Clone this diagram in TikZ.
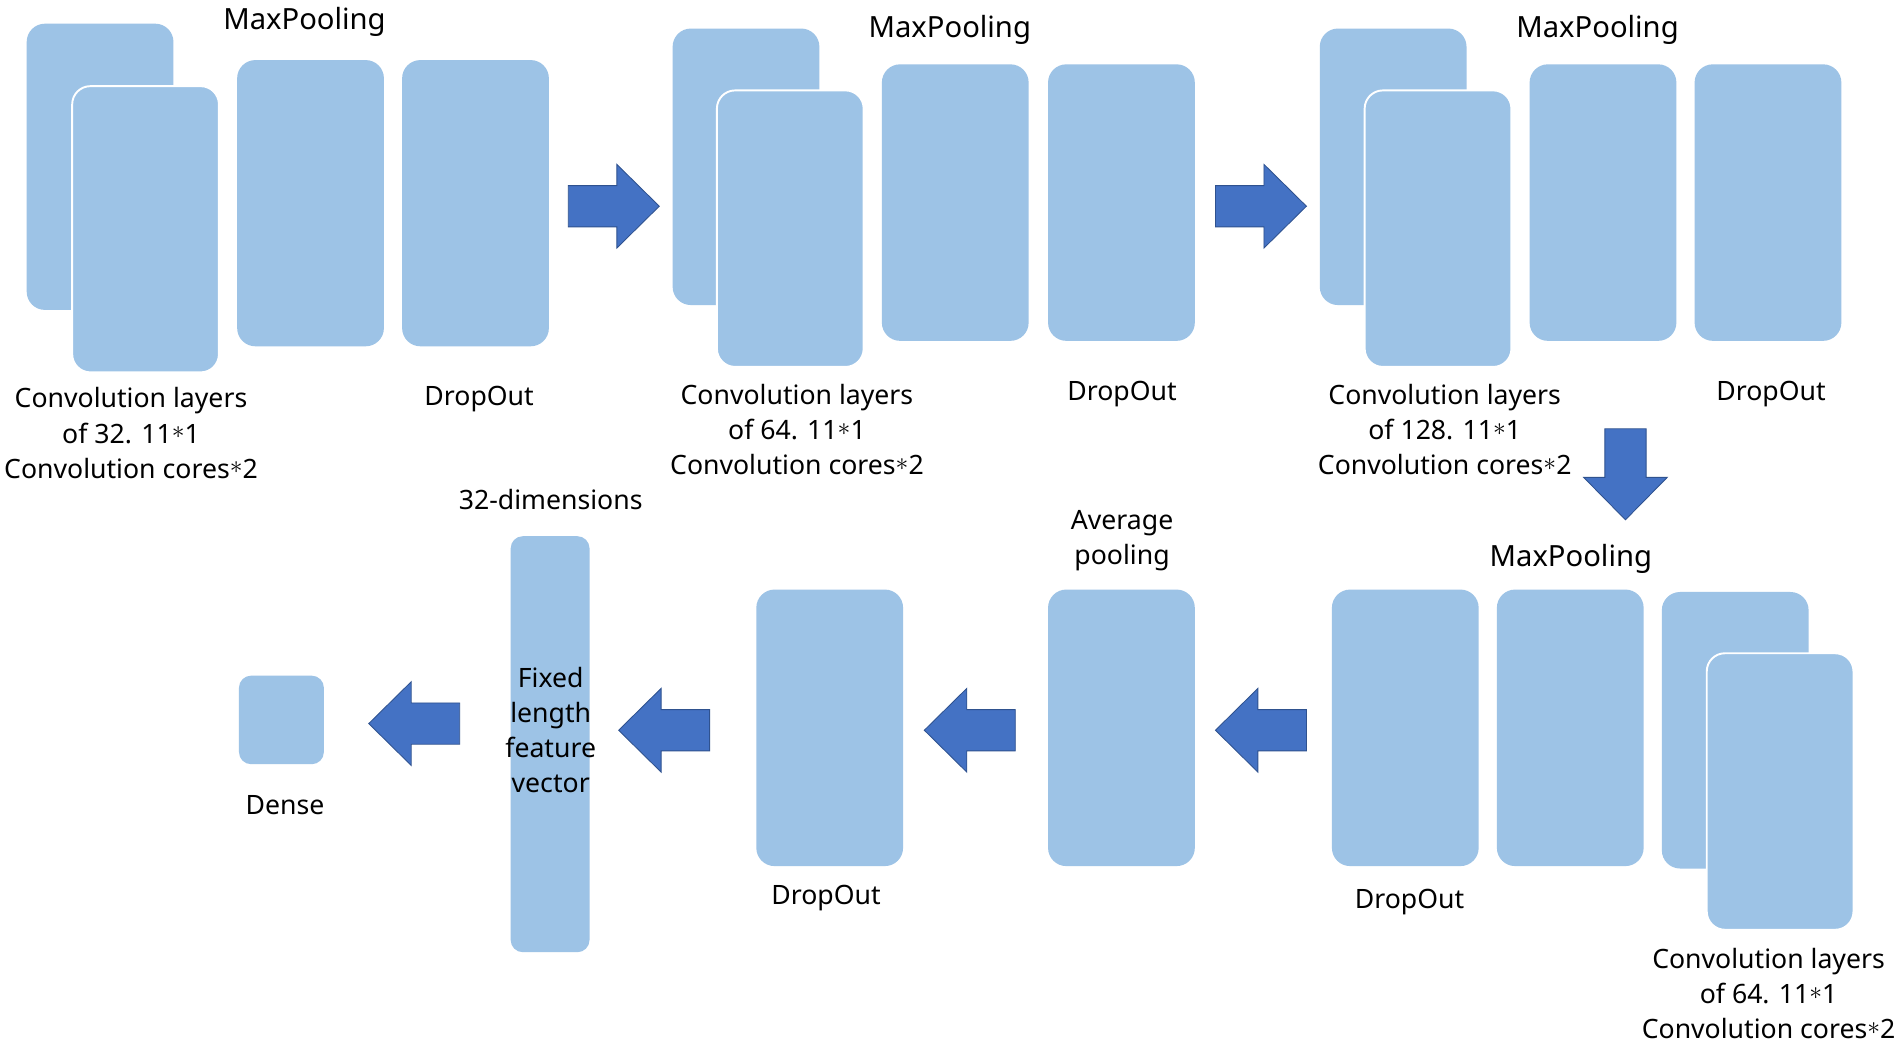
\documentclass[tikz,border=0pt]{standalone}
\usepackage{fontspec}
\setmainfont{Noto Sans}
\usetikzlibrary{positioning}
\definecolor{layerblue}{HTML}{9DC3E6}
\definecolor{arrowblue}{HTML}{4472C4}
\definecolor{arrowedge}{HTML}{2F528F}
\newcommand{\cstar}{\raisebox{0.3ex}{$\ast$}}

\begin{document}
\begin{tikzpicture}[x=0.02cm, y=0.02cm,
  layer/.style={rectangle, rounded corners=0.3cm, fill=layerblue, inner sep=0pt,
    minimum width=2.42cm, minimum height=4.56cm},
  tall/.style={minimum height=4.72cm},
  front/.style={draw=white, line width=0.9pt},
  lbl/.style={align=center, inner sep=0pt, font=\fontsize{12.5}{16.5}\selectfont},
  title/.style={inner sep=0pt, font=\fontsize{13.7}{16.5}\selectfont},
  blockarrow/.pic={
    \filldraw[fill=arrowblue, draw=arrowedge, line width=0.4pt]
      (-37.5,-17) -- (2.5,-17) -- (2.5,-34.5) -- (37.5,0)
      -- (2.5,34.5) -- (2.5,17) -- (-37.5,17) -- cycle;}]

  \path[use as bounding box, fill=white] (0,0) rectangle (1568,-860);

  % first block
  \node[layer, tall] (c1b) at (82.5,-137.5) {};
  \node[layer, tall, front] (c1f) at (120,-189) {};
  \node[layer, tall] (mp1) at (256,-167.5) {};
  \node[layer, tall] (do1) at (392,-167.5) {};
  \node[title] (t1) at (251,-18) {MaxPooling};
  \node[lbl] (l1) at (108,-357) {Convolution layers\\of 32. 11\cstar1\\Convolution cores\cstar2};
  \node[lbl] (d1) at (395,-329) {DropOut};
  \pic (r1) at (506,-170) {blockarrow};

  % second block
  \node[layer] (c2b) at (615,-137.5) {};
  \node[layer, front] (c2f) at (651.5,-188.5) {};
  \node[layer] (mp2) at (787.5,-167) {};
  \node[layer] (do2) at (924.5,-167) {};
  \node[title] (t2) at (783,-25) {MaxPooling};
  \node[lbl] (l2) at (657,-354) {Convolution layers\\of 64. 11\cstar1\\Convolution cores\cstar2};
  \node[lbl] (d2) at (925,-325) {DropOut};
  \pic (r2) at (1039.5,-170) {blockarrow};

  % third block
  \node[layer] (c3b) at (1148.5,-137.5) {};
  \node[layer, front] (c3f) at (1185.5,-188.5) {};
  \node[layer] (mp3) at (1321.5,-167) {};
  \node[layer] (do3) at (1457.5,-167) {};
  \node[title] (t3) at (1317,-25) {MaxPooling};
  \node[lbl] (l3) at (1191,-354) {Convolution layers\\of 128. 11\cstar1\\Convolution cores\cstar2};
  \node[lbl] (d3) at (1460,-325) {DropOut};
  \pic[rotate=-90] (dn) at (1340,-391) {blockarrow};

  % fourth block, right to left
  \node[layer] (c4b) at (1430.5,-602) {};
  \node[layer, front] (c4f) at (1467.5,-652.5) {};
  \node[layer] (mp4) at (1294.5,-600) {};
  \node[layer] (do4) at (1158.5,-600) {};
  \node[title] (t4) at (1295,-461) {MaxPooling};
  \node[lbl] (l4) at (1458,-819) {Convolution layers\\of 64. 11\cstar1\\Convolution cores\cstar2};
  \node[lbl] (d4) at (1162,-744) {DropOut};
  \pic[rotate=180] (a1) at (1039.5,-602) {blockarrow};

  \node[layer] (avg) at (924.5,-600) {};
  \node[lbl] (ta) at (925,-445.5) {Average\\pooling};
  \pic[rotate=180] (a2) at (799.5,-602) {blockarrow};

  \node[layer] (do5) at (684,-600) {};
  \node[lbl] (d5) at (681,-740) {DropOut};
  \pic[rotate=180] (a3) at (547.5,-602) {blockarrow};

  \node[layer, rounded corners=0.2cm, minimum width=1.3cm, minimum height=6.86cm] (vec) at (453.5,-613.5) {};
  \node[lbl] (tv) at (454,-602) {Fixed\\length\\feature\\vector};
  \node[lbl] (dim) at (454,-412) {32-dimensions};
  \pic[rotate=180] (a4) at (341.5,-596.5) {blockarrow};

  \node[layer, rounded corners=0.2cm, minimum width=1.4cm, minimum height=1.46cm] (dense) at (232,-593.5) {};
  \node[lbl] (dl) at (235,-664) {Dense};
\end{tikzpicture}
\end{document}
